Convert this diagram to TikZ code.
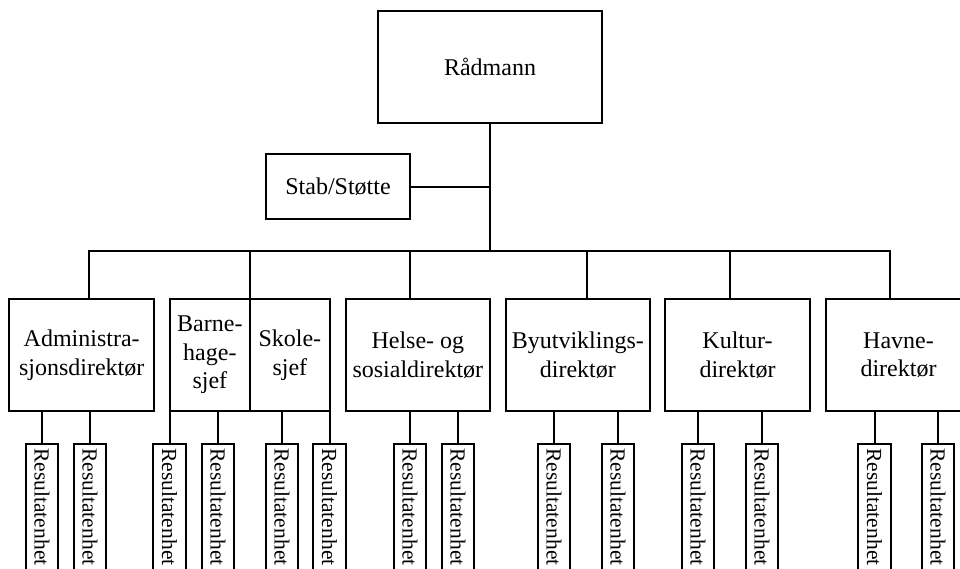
\documentclass[tikz,border=0pt]{standalone}
\usepackage{fontspec}
\setmainfont{Liberation Serif}
\begin{document}
\begin{tikzpicture}[x=1pt,y=-1pt,
  box/.style={draw, line width=2pt, rectangle, inner sep=0pt, align=center,
    font=\fontsize{24}{28.5}\selectfont},
  dir/.style={box, minimum height=112pt},
  res/.style={draw, line width=2pt, rectangle, inner sep=0pt, rotate=-90, anchor=west,
    minimum width=126pt, minimum height=32.5pt, font=\fontsize{21.5}{24}\selectfont},
  link/.style={draw, line width=2pt}]
\useasboundingbox (0,0) rectangle (960,568);
\clip (0,0) rectangle (960,568);

\node[box, minimum width=224pt, minimum height=112pt] (radmann) at (490,67) {Rådmann};
\node[box, minimum width=144pt, minimum height=65pt] (stab) at (338,186.5) {Stab/Støtte};

\node[dir, minimum width=144.7pt] (admin) at (81.7,355) {Administra-\\sjonsdirektør};
\node[dir, minimum width=79.7pt] (barne) at (209.85,355) {Barne-\\hage-\\sjef};
\node[dir, minimum width=80.3pt] (skole) at (289.85,355) {Skole-\\sjef};
\node[dir, minimum width=144.3pt] (helse) at (417.85,355) {Helse- og\\sosialdirektør};
\node[dir, minimum width=144.3pt] (byut) at (577.85,355) {Byutviklings-\\direktør};
\node[dir, minimum width=145pt] (kultur) at (737.5,355) {Kultur-\\direktør};
\node[dir, minimum width=145pt] (havne) at (898.5,355) {Havne-\\direktør};

% bar
\coordinate (bar) at (490,251);
\coordinate (d1) at (89,251);
\coordinate (d2) at (249.7,251);
\coordinate (d3) at (410,251);
\coordinate (d4) at (587,251);
\coordinate (d5) at (730,251);
\coordinate (d6) at (890,251);
\draw[link] (radmann.south) -- (bar);
\draw[link] (stab.east) -- (stab.east -| radmann.south);
\draw[link, line cap=rect] (d1) -- (d6);
\draw[link] (d1) -- (d1 |- admin.north);
\draw[link] (d2) -- (d2 |- barne.north);
\draw[link] (d3) -- (d3 |- helse.north);
\draw[link] (d4) -- (d4 |- byut.north);
\draw[link] (d5) -- (d5 |- kultur.north);
\draw[link] (d6) -- (d6 |- havne.north);

% result units
\foreach \n/\x in {r1/42, r2/90, r3/169.5, r4/218, r5/282, r6/329.5, r7/410, r8/458,
  r9/554, r10/618, r11/698, r12/762, r13/874.5, r14/938}
  \node[res] (\n) at (\x,443) {Resultatenhet};

\foreach \p/\n in {admin/r1, admin/r2, barne/r3, barne/r4, skole/r5, skole/r6,
  helse/r7, helse/r8, byut/r9, byut/r10, kultur/r11, kultur/r12, havne/r13, havne/r14}
  \draw[link] (\n.west |- \p.south) -- (\n.west);
\end{tikzpicture}
\end{document}
